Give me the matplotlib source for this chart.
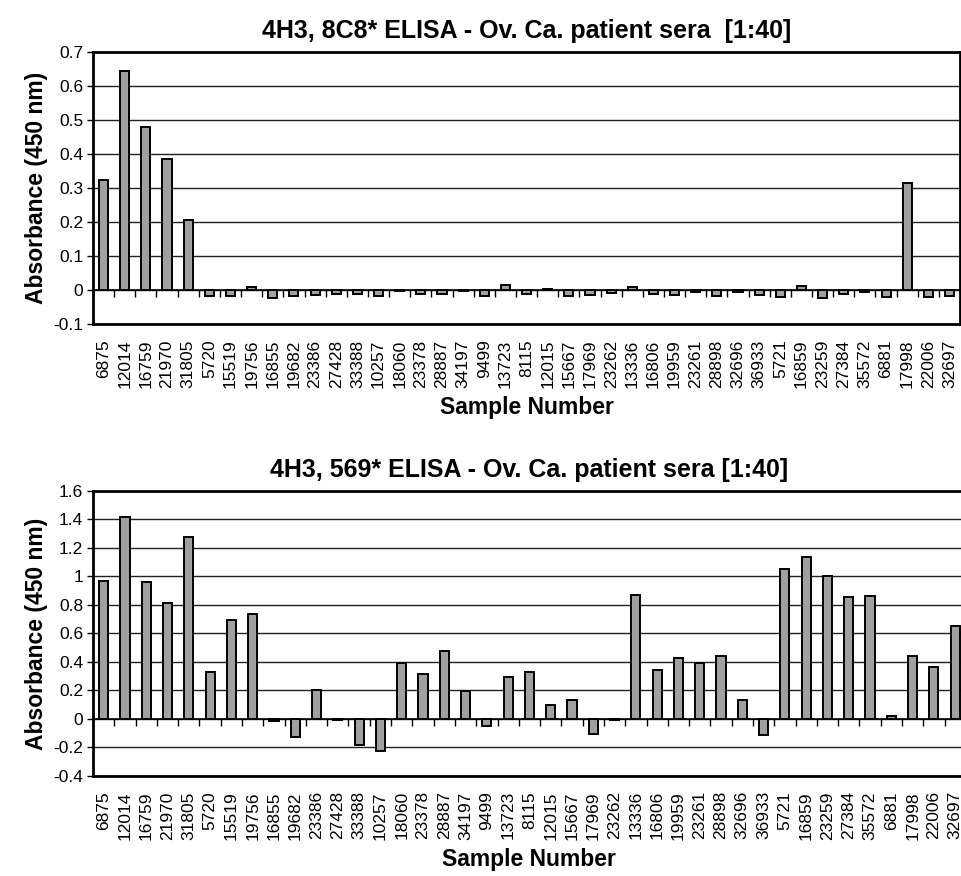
import numpy as np
import matplotlib
matplotlib.use("Agg")
import matplotlib.pyplot as plt
from matplotlib.lines import TICKDOWN

plt.rcParams['font.family'] = ['Liberation Sans', 'DejaVu Sans']
plt.rcParams['axes.unicode_minus'] = False

# sample numbers (shared x categories)
samples = ["6875", "12014", "16759", "21970", "31805", "5720", "15519", "19756",
           "16855", "19682", "23386", "27428", "33388", "10257", "18060", "23378",
           "28887", "34197", "9499", "13723", "8115", "12015", "15667", "17969",
           "23262", "13336", "16806", "19959", "23261", "28898", "32696", "36933",
           "5721", "16859", "23259", "27384", "35572", "6881", "17998", "22006",
           "32697"]

# 4H3, 8C8* absorbance
abs_8c8 = [0.325, 0.643, 0.479, 0.386, 0.206, -0.017, -0.017, 0.009,
           -0.022, -0.016, -0.015, -0.011, -0.011, -0.016, -0.003, -0.012,
           -0.011, -0.002, -0.016, 0.015, -0.010, 0.004, -0.016, -0.015,
           -0.009, 0.008, -0.012, -0.013, -0.007, -0.017, -0.007, -0.015,
           -0.019, 0.011, -0.024, -0.011, -0.007, -0.020, 0.314, -0.020,
           -0.017]

# 4H3, 569* absorbance
abs_569 = [0.965, 1.414, 0.960, 0.813, 1.280, 0.327, 0.694, 0.738,
           -0.014, -0.126, 0.201, -0.005, -0.182, -0.227, 0.395, 0.313,
           0.477, 0.194, -0.047, 0.294, 0.329, 0.098, 0.131, -0.103,
           -0.010, 0.871, 0.346, 0.425, 0.395, 0.442, 0.136, -0.114,
           1.051, 1.136, 1.005, 0.853, 0.860, 0.023, 0.442, 0.367,
           0.654]

titles = ["4H3, 8C8* ELISA - Ov. Ca. patient sera  [1:40]",
          "4H3, 569* ELISA - Ov. Ca. patient sera [1:40]"]
ylims = [(-0.1, 0.7), (-0.4, 1.6)]
ysteps = [0.1, 0.2]

fig = plt.figure(figsize=(9.62, 8.76), dpi=100)
ax1 = fig.add_axes([0.0967, 0.630, 0.9013, 0.3106])
ax2 = fig.add_axes([0.0967, 0.1142, 0.9073, 0.3253])

x = np.arange(len(samples))

for ax, vals, title, (lo, hi), step in zip([ax1, ax2], [abs_8c8, abs_569], titles, ylims, ysteps):
    ax.bar(x, vals, width=0.43, color='#a0a0a0', edgecolor='black', linewidth=1.4, zorder=3)
    ax.set_xlim(-0.5, len(samples) - 0.5)
    ax.set_ylim(lo, hi)
    yt = np.round(np.arange(lo, hi + step / 2, step), 2)
    ax.set_yticks(yt)
    ax.set_yticklabels([f"{v:g}" for v in yt], fontsize=12.5)
    ax.yaxis.grid(True, color='#222222', linewidth=1.0, zorder=0)
    ax.set_axisbelow(True)
    # category axis at zero, ticks between categories
    ax.axhline(0, color='black', linewidth=1.2, zorder=2)
    bounds = np.arange(len(samples) + 1) - 0.5
    ax.plot(bounds, np.zeros_like(bounds), ls='none', marker=TICKDOWN,
            markersize=5, color='black', mew=1.0, zorder=2, clip_on=False)
    ax.set_xticks(x)
    ax.set_xticklabels(samples, rotation=90, fontsize=12.5)
    ax.tick_params(axis='x', length=0, pad=11)
    ax.tick_params(axis='y', length=4, width=1, pad=3)
    for s in ax.spines.values():
        s.set_linewidth(2)
    ax.set_title(title, fontsize=18, fontweight='bold', pad=10)
    ax.set_ylabel("Absorbance (450 nm)", fontsize=16.5, fontweight='bold', labelpad=4)
    ax.set_xlabel("Sample Number", fontsize=16.5, fontweight='bold', labelpad=6)

fig.savefig("out.png", dpi=100)
